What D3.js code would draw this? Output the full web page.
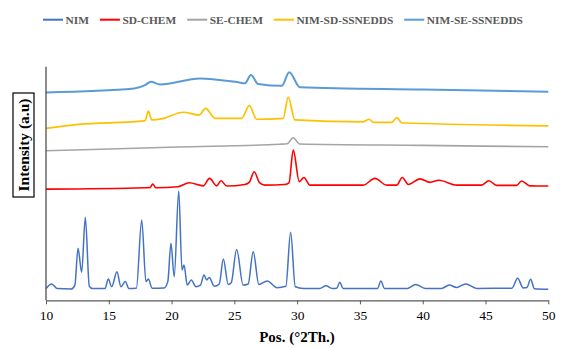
<!DOCTYPE html>
<html>
<head>
  <meta charset="utf-8">
  <title>XRD patterns</title>
  <script src="https://d3js.org/d3.v7.min.js"></script>
  <style>
    body { margin: 0; background: #fff; }
    svg { display: block; }
    .tick text { font-family: "Liberation Serif", "Times New Roman", serif; font-size: 13.5px; fill: #000; }
    .legend text { font-family: "Liberation Serif", "Times New Roman", serif; font-size: 11.4px; font-weight: bold; fill: #595959; }
    .axis-title { font-family: "Liberation Serif", "Times New Roman", serif; font-weight: bold; fill: #000; }
  </style>
</head>
<body>
<script>
  // series names and colours, in legend order
  var seriesNames = ["NIM", "SD-CHEM", "SE-CHEM", "NIM-SD-SSNEDDS", "NIM-SE-SSNEDDS"];
  var seriesColors = ["#4472C4", "#FF0000", "#A5A5A5", "#FFC000", "#5B9BD5"];

  var xTicks = [10, 15, 20, 25, 30, 35, 40, 45, 50];

  // [2theta, intensity a.u. (stacked, 0-100)]
  var nim = [
    [10.0, 5.0], [10.45, 7.0], [10.9, 5.0], [12.0, 4.8], [12.3, 6.5], [12.55, 22.3], [12.84, 12.0],
    [13.13, 35.5], [13.45, 6.0], [13.7, 5.0], [14.7, 5.0], [14.96, 9.1], [15.23, 5.8], [15.65, 12.2],
    [15.97, 5.8], [16.31, 8.0], [16.6, 5.0], [17.2, 5.2], [17.62, 34.4], [17.96, 8.0], [18.15, 9.1],
    [18.45, 5.2], [19.4, 5.3], [19.7, 8.0], [19.95, 24.4], [20.21, 10.1], [20.57, 46.8], [20.83, 13.0],
    [20.99, 15.1], [21.25, 6.5], [21.57, 8.7], [21.94, 5.8], [22.3, 6.5], [22.58, 10.8], [22.8, 8.7],
    [23.0, 9.8], [23.4, 6.0], [23.8, 7.0], [24.12, 17.7], [24.51, 6.8], [24.75, 7.5], [25.18, 21.8],
    [25.7, 6.5], [26.1, 7.0], [26.5, 20.8], [26.95, 6.8], [27.62, 8.3], [28.4, 5.4], [29.1, 6.0],
    [29.48, 29.1], [29.85, 5.8], [30.5, 5.1], [31.8, 5.1], [32.29, 6.2], [32.8, 5.1], [33.15, 5.2],
    [33.4, 7.7], [33.65, 5.1], [36.4, 5.1], [36.67, 8.3], [36.95, 5.1], [38.8, 5.1], [39.43, 6.8],
    [40.2, 5.1], [41.5, 5.1], [42.11, 6.5], [42.7, 5.5], [43.42, 7.0], [44.3, 5.1], [47.1, 5.2],
    [47.56, 9.4], [48.0, 5.3], [48.3, 5.5], [48.59, 9.0], [48.9, 4.9], [50.0, 4.7]
  ];

  var sdChem = [
    [10.0, 47.6], [17.9, 48.2], [18.3, 48.3], [18.5, 49.8], [18.75, 48.2], [20.5, 48.6], [21.41, 50.3],
    [22.52, 49.0], [23.03, 52.2], [23.59, 49.0], [23.93, 51.2], [24.39, 48.9], [25.84, 49.6],
    [26.2, 50.6], [26.58, 55.0], [27.0, 50.4], [27.44, 49.3], [29.03, 49.6], [29.35, 50.3],
    [29.69, 64.3], [30.17, 50.8], [30.54, 52.6], [31.02, 49.3], [35.26, 49.3], [36.19, 52.2],
    [37.13, 49.3], [37.92, 49.3], [38.37, 52.6], [38.85, 49.6], [39.78, 52.0], [40.57, 50.5],
    [41.29, 51.4], [42.7, 49.3], [44.69, 49.3], [45.27, 51.2], [45.88, 49.2], [47.48, 49.2],
    [47.87, 51.1], [48.54, 49.0], [50.0, 48.9]
  ];

  var seChem = [
    [10.0, 64.0], [20.5, 65.6], [28.6, 66.8], [29.2, 67.0], [29.69, 69.6], [30.2, 66.9],
    [40.0, 66.3], [50.0, 65.7]
  ];

  var nimSd = [
    [10.0, 73.6], [12.57, 75.3], [17.62, 76.7], [17.9, 77.0], [18.15, 81.0], [18.42, 77.2],
    [19.3, 77.8], [20.93, 80.5], [22.18, 79.3], [22.71, 82.2], [23.46, 77.9], [25.58, 77.9],
    [26.19, 83.3], [26.78, 77.5], [28.89, 77.9], [29.29, 87.0], [29.82, 77.2], [35.26, 76.4],
    [35.72, 77.5], [36.06, 76.2], [37.52, 76.2], [37.95, 78.2], [38.32, 76.0], [50.0, 74.7]
  ];

  var nimSe = [
    [10.0, 89.0], [17.03, 90.7], [17.88, 92.1], [18.36, 93.6], [19.08, 92.4], [22.26, 95.0],
    [25.31, 93.3], [25.84, 92.9], [26.32, 96.4], [26.9, 92.6], [28.77, 91.8], [29.37, 97.6],
    [30.22, 91.2], [40.0, 90.2], [50.0, 89.3]
  ];

  var seriesData = [nim, sdChem, seChem, nimSd, nimSe];
  var seriesWidths = [1.5, 1.6, 1.6, 1.7, 2];

  var width = 587, height = 348;
  var margin = {top: 66.7, right: 38.7, bottom: 47.7, left: 46};

  var svg = d3.select("body").append("svg")
      .attr("width", width)
      .attr("height", height);

  var x = d3.scaleLinear().domain([10, 50]).range([margin.left, width - margin.right]);
  var y = d3.scaleLinear().domain([0, 100]).range([height - margin.bottom, margin.top]);

  var line = d3.line()
      .x(d => x(d[0]))
      .y(d => y(d[1]))
      .curve(d3.curveMonotoneX);

  // traces
  seriesData.forEach(function(s, i) {
    svg.append("path")
        .datum(s)
        .attr("fill", "none")
        .attr("stroke", seriesColors[i])
        .attr("stroke-width", seriesWidths[i])
        .attr("stroke-linejoin", "round")
        .attr("d", line);
  });

  // x axis
  var xAxis = svg.append("g")
      .attr("transform", "translate(0," + y(0) + ")")
      .call(d3.axisBottom(x).tickValues(xTicks).tickSize(4).tickSizeOuter(0).tickPadding(6));
  xAxis.select(".domain").attr("stroke", "#595959").attr("stroke-width", 1.2);
  xAxis.selectAll(".tick line").attr("stroke", "#595959");

  // y axis line only
  svg.append("line")
      .attr("x1", x(10)).attr("x2", x(10))
      .attr("y1", y(0)).attr("y2", y(100))
      .attr("stroke", "#404040")
      .attr("stroke-width", 1.2);

  // x title
  svg.append("text")
      .attr("class", "axis-title")
      .attr("x", 297)
      .attr("y", 342)
      .attr("text-anchor", "middle")
      .style("font-size", "15px")
      .text("Pos. (°2Th.)");

  // y title with box
  var yt = svg.append("g").attr("transform", "translate(23.5,145) rotate(-90)");
  yt.append("rect")
      .attr("x", -52)
      .attr("y", -10.5)
      .attr("width", 104)
      .attr("height", 21)
      .attr("fill", "none")
      .attr("stroke", "#000")
      .attr("stroke-width", 1.2);
  yt.append("text")
      .attr("class", "axis-title")
      .attr("text-anchor", "middle")
      .attr("dy", "0.35em")
      .style("font-size", "15.5px")
      .text("Intensity (a.u)");

  // legend
  var legend = svg.append("g").attr("class", "legend");
  var lx = 43;
  seriesNames.forEach(function(name, i) {
    legend.append("line")
        .attr("x1", lx).attr("x2", lx + 20)
        .attr("y1", 19.7).attr("y2", 19.7)
        .attr("stroke", seriesColors[i])
        .attr("stroke-width", 2);
    var t = legend.append("text")
        .attr("x", lx + 22.5)
        .attr("y", 23.6)
        .text(name);
    lx += 22.5 + t.node().getComputedTextLength() + 11;
  });
</script>
</body>
</html>
